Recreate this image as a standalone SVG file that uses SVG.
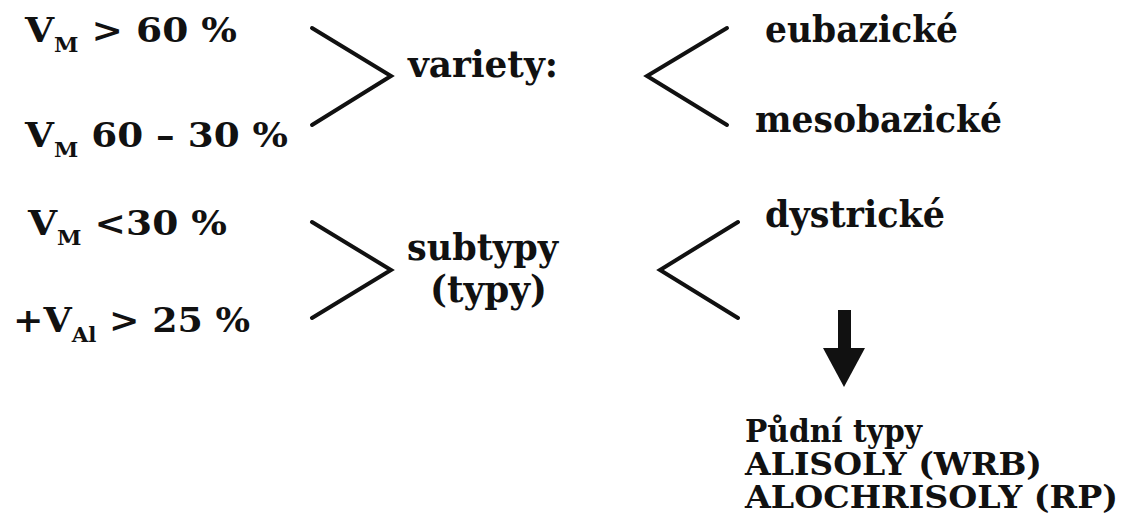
<svg xmlns="http://www.w3.org/2000/svg" width="1127" height="530" viewBox="0 0 1127 530">
<style>
.big{font-size:34px;}
.mid{font-size:37px;}
.sm{font-size:31px;}
.sub{font-size:20px;}
.ch{fill:none;stroke:#111;stroke-width:4;stroke-linecap:round;stroke-linejoin:miter;}
</style>
<rect width="1127" height="530" fill="#fff"/>
<g font-family="'DejaVu Serif', 'Liberation Serif', serif" font-weight="bold" fill="#111">
<g id="cond1"><text class="big" x="25" y="42" textLength="212" lengthAdjust="spacingAndGlyphs">V<tspan class="sub" dy="10">M</tspan><tspan dy="-10"> &gt; 60 %</tspan></text></g>
<g id="cond2"><text class="big" x="25" y="147" textLength="263" lengthAdjust="spacingAndGlyphs">V<tspan class="sub" dy="10">M</tspan><tspan dy="-10"> 60 – 30 %</tspan></text></g>
<g id="cond3"><text class="big" x="28" y="235" textLength="199" lengthAdjust="spacingAndGlyphs">V<tspan class="sub" dy="10">M</tspan><tspan dy="-10"> &lt;30 %</tspan></text></g>
<g id="cond4"><text class="big" x="13" y="332" textLength="237" lengthAdjust="spacingAndGlyphs">+V<tspan class="sub" dy="10">Al</tspan><tspan dy="-10"> &gt; 25 %</tspan></text></g>
<g id="variety"><text class="mid" x="408" y="77" textLength="150" lengthAdjust="spacingAndGlyphs">variety:</text></g>
<g id="subtypy"><text class="mid" x="407" y="260" textLength="151" lengthAdjust="spacingAndGlyphs">subtypy</text><text class="mid" x="430" y="302" textLength="117" lengthAdjust="spacingAndGlyphs">(typy)</text></g>
<g id="eubazicke"><text class="mid" x="765" y="42" textLength="193" lengthAdjust="spacingAndGlyphs">eubazické</text></g>
<g id="mesobazicke"><text class="mid" x="755" y="132" textLength="247" lengthAdjust="spacingAndGlyphs">mesobazické</text></g>
<g id="dystricke"><text class="mid" x="765" y="227" textLength="180" lengthAdjust="spacingAndGlyphs">dystrické</text></g>
<g id="pudni"><text class="sm" x="745" y="442" textLength="177" lengthAdjust="spacingAndGlyphs">Půdní typy</text><text class="sm" x="745" y="475" textLength="297" lengthAdjust="spacingAndGlyphs">ALISOLY (WRB)</text><text class="sm" x="745" y="508" textLength="373" lengthAdjust="spacingAndGlyphs">ALOCHRISOLY (RP)</text></g>
</g>
<g id="connectors">
<polyline class="ch" points="312,28 391,76 312,125"/>
<polyline class="ch" points="312,222 391,270 312,318"/>
<polyline class="ch" points="727,28 647,76 727,125"/>
<polyline class="ch" points="738,222 660,270 738,318"/>
<rect x="838" y="310" width="13" height="40" fill="#111"/>
<polygon points="823,348 865,348 844,387" fill="#111"/>
</g>
</svg>
